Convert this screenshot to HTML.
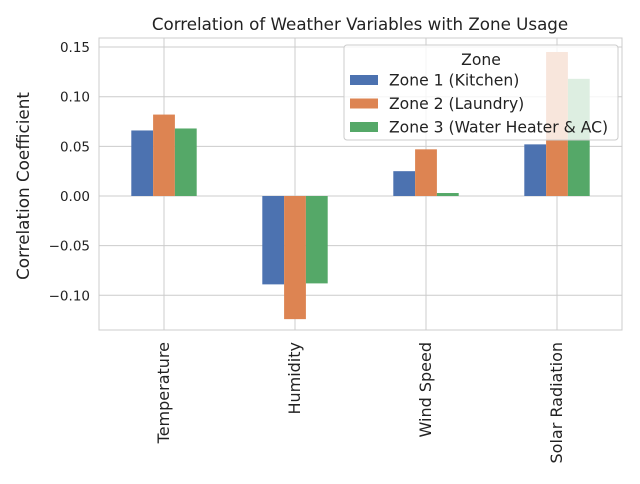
<!DOCTYPE html>
<html><head><meta charset="utf-8"><style>
body{margin:0;background:#fff;font-family:"DejaVu Sans","Liberation Sans",sans-serif;}
</style></head><body>
<svg width="640" height="480" viewBox="0 0 640 480" font-family="DejaVu Sans, Liberation Sans, sans-serif">
<rect width="640" height="480" fill="#fff"/>
<g id="grid"></g>
<g id="bars"></g>
<rect x="99" y="38" width="523" height="292" fill="none" stroke="#ccc" stroke-width="1"/>
<g id="yticks"></g>
<g id="xticks"></g>
<text x="360" y="30" text-anchor="middle" font-size="16.7" fill="#222">Correlation of Weather Variables with Zone Usage</text>
<text transform="translate(29,186) rotate(-90)" text-anchor="middle" font-size="16.8" fill="#222">Correlation Coefficient</text>
<g id="legend">
<rect x="344" y="45" width="274" height="95" rx="3" fill="#fff" fill-opacity="0.8" stroke="#ccc"/>
<text x="481" y="65" text-anchor="middle" font-size="15.6" fill="#222">Zone</text>
</g>
</svg>
<script>
const categories=["Temperature","Humidity","Wind Speed","Solar Radiation"];
const seriesNames=["Zone 1 (Kitchen)","Zone 2 (Laundry)","Zone 3 (Water Heater & AC)"];
const zone1=[0.066,-0.089,0.025,0.052];
const zone2=[0.082,-0.124,0.047,0.145];
const zone3=[0.068,-0.088,0.003,0.118];
const yTicks=[-0.10,-0.05,0.00,0.05,0.10,0.15];
const colors=["#4c72b0","#dd8452","#55a868"];
const NS="http://www.w3.org/2000/svg";
const y=v=>196-v*993;
const xc=i=>164+i*131;
const bw=21.8;
function mk(t,a,p){const e=document.createElementNS(NS,t);for(const k in a)e.setAttribute(k,a[k]);p.appendChild(e);return e;}
const grid=document.getElementById('grid'),yt=document.getElementById('yticks'),xt=document.getElementById('xticks'),bars=document.getElementById('bars'),lg=document.getElementById('legend');
yTicks.forEach(v=>{
 const l=mk('line',{x1:99,x2:622,y1:y(v),y2:y(v),stroke:'#ccc'},grid);
 
 
 const t=mk('text',{x:90,y:y(v)+5,'text-anchor':'end','font-size':13.5,fill:'#222'},yt);
 t.textContent=v.toFixed(2).replace('-','\u2212');
 
 
});
categories.forEach((c,i)=>{
 const l=mk('line',{x1:xc(i),x2:xc(i),y1:38,y2:330,stroke:'#ccc'},grid);
 
 
 const t=mk('text',{transform:`translate(${xc(i)+5},342) rotate(-90)`,'text-anchor':'end','font-size':16,fill:'#222'},xt);
 t.textContent=c;
 
 
});
[zone1,zone2,zone3].forEach((s,j)=>{
 s.forEach((v,i)=>{
  const x=xc(i)-1.5*bw+j*bw;
  const r=mk('rect',{x:x,y:Math.min(y(v),y(0)),width:bw,height:Math.abs(y(v)-y(0)),fill:colors[j]},bars);
  
  
 });
});
seriesNames.forEach((n,j)=>{
 const yy=80+j*23.5;
 const r=mk('rect',{x:350,y:yy-5,width:28,height:10,fill:colors[j]},lg);
 
 
 const t=mk('text',{x:389,y:yy+5.5,'font-size':15.6,fill:'#222'},lg);
 t.textContent=n;
 
 
});
</script>
</body></html>
